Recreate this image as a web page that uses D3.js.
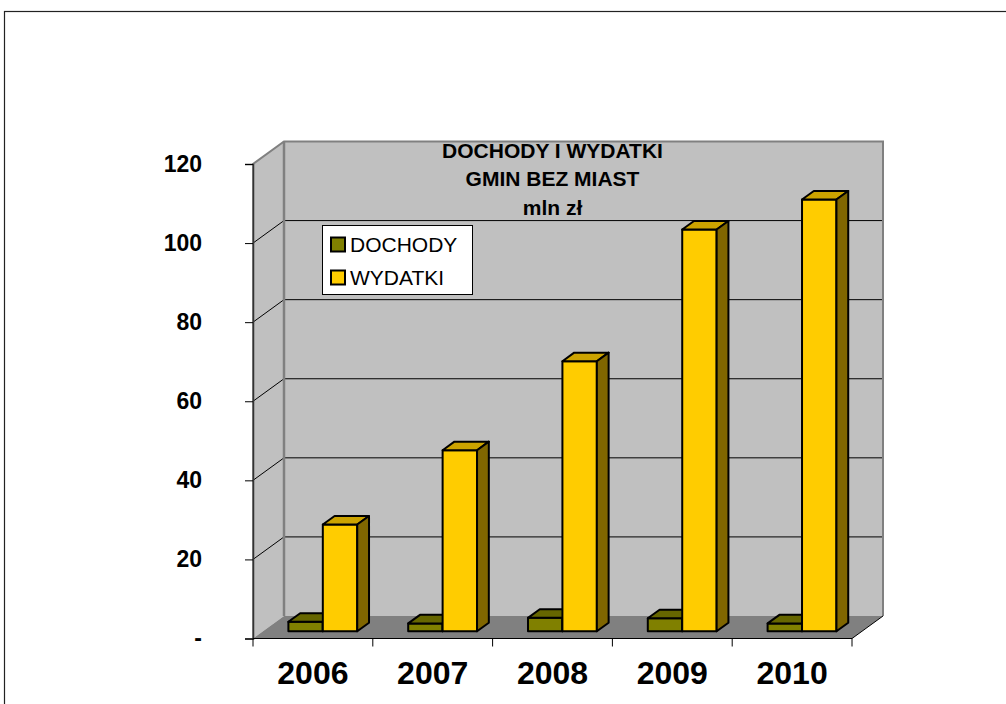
<!DOCTYPE html>
<html>
<head>
<meta charset="utf-8">
<script src="https://cdn.jsdelivr.net/npm/d3@7"></script>
<style>
  html, body { margin: 0; padding: 0; background: #fff; }
  svg { display: block; font-family: "Liberation Sans", Arial, sans-serif; }
</style>
</head>
<body>
<svg id="chart" width="1006" height="704"></svg>
<script>
// Revenue and spending of rural communes, million zł
const years = ['2006', '2007', '2008', '2009', '2010'];
const seriesNames = ['DOCHODY', 'WYDATKI'];
const dochody = [2.4, 2.0, 3.4, 3.3, 2.0];
const wydatki = [27.0, 45.8, 68.3, 101.6, 109.2];
const yTicks = [0, 20, 40, 60, 80, 100, 120];
const yTickLabels = ['-', '20', '40', '60', '80', '100', '120'];
const titleLines = ['DOCHODY I WYDATKI', 'GMIN BEZ MIAST', 'mln zł'];

const seriesValues = [dochody, wydatki];
const faceColors = [
  { front: '#808000', top: '#666600', side: '#404000' },
  { front: '#FFCC00', top: '#CCA300', side: '#806600' }
];

const svg = d3.select('#chart');

// outer frame
svg.append('rect')
  .attr('x', 4.5).attr('y', 11.5).attr('width', 1010).attr('height', 700)
  .attr('fill', 'none').attr('stroke', '#222').attr('stroke-width', 1.2);

// front-plane scales and depth projection
const x = d3.scaleBand().domain(years).range([253, 852]);
const xs = d3.scaleBand().domain(seriesNames).range([0, x.bandwidth()])
  .paddingInner(0).paddingOuter(0.74);
const y = d3.scaleLinear().domain([0, 120]).range([638.5, 164]);
const DX = 31, DY = 22.5;      // full depth offset
const F0 = 0.32, F1 = 0.70;    // bar depth range (fraction of full depth)
const P = (px, py, f) => [px + f * DX, py - f * DY];
const poly = pts => pts.map(p => p.join(',')).join(' ');

const x0 = x.range()[0], x1 = x.range()[1];
const yb = y(0), yt = y(120);

// walls and floor
const g = svg.append('g');
g.append('polygon') // left wall
  .attr('points', poly([P(x0, yt, 0), P(x0, yt, 1), P(x0, yb, 1), P(x0, yb, 0)]))
  .attr('fill', '#C0C0C0');
g.append('polygon') // back wall
  .attr('points', poly([P(x0, yt, 1), P(x1, yt, 1), P(x1, yb, 1), P(x0, yb, 1)]))
  .attr('fill', '#C0C0C0');
g.append('polygon') // floor
  .attr('points', poly([P(x0, yb, 0), P(x1, yb, 0), P(x1, yb, 1), P(x0, yb, 1)]))
  .attr('fill', '#808080');

// gridlines across left and back walls
yTicks.filter(v => v > 0 && v < 120).forEach(v => {
  g.append('polyline')
    .attr('points', poly([P(x0, y(v), 0), P(x0, y(v), 1), P(x1, y(v), 1)]))
    .attr('fill', 'none').attr('stroke', '#000').attr('stroke-width', 1);
});

// wall edges
g.append('polyline')
  .attr('points', poly([P(x0, yb, 0), P(x0, yt, 0), P(x0, yt, 1), P(x1, yt, 1), P(x1, yb, 1)]))
  .attr('fill', 'none').attr('stroke', '#808080').attr('stroke-width', 2);
g.append('line')
  .attr('x1', P(x0, yt, 1)[0]).attr('y1', P(x0, yt, 1)[1])
  .attr('x2', P(x0, yb, 1)[0]).attr('y2', P(x0, yb, 1)[1])
  .attr('stroke', '#808080').attr('stroke-width', 2.5);

// bars
const bars = svg.append('g').attr('stroke', '#000').attr('stroke-width', 2)
  .attr('stroke-linejoin', 'round');
years.forEach((yr, i) => {
  seriesNames.forEach((s, k) => {
    const v = seriesValues[k][i];
    const xl = x(yr) + xs(s), xr = xl + xs.bandwidth();
    const top = y(v), bot = y(0);
    const c = faceColors[k];
    const fl = P(xl, top, F0), fr = P(xr, top, F0);
    const frb = P(xr, bot, F0), flb = P(xl, bot, F0);
    const bl = P(xl, top, F1), br = P(xr, top, F1), brb = P(xr, bot, F1);
    bars.append('polygon').attr('points', poly([fl, fr, frb, flb])).attr('fill', c.front);
    bars.append('polygon').attr('points', poly([fl, fr, br, bl])).attr('fill', c.top);
    bars.append('polygon').attr('points', poly([fr, br, brb, frb])).attr('fill', c.side);
  });
});

// y axis
const yAxis = svg.append('g')
  .attr('transform', `translate(${x0},0)`)
  .call(d3.axisLeft(y).tickValues(yTicks)
    .tickFormat((d, i) => yTickLabels[i]).tickSize(8).tickPadding(43));
yAxis.select('.domain').attr('stroke', '#333').attr('stroke-width', 1.5);
yAxis.selectAll('.tick line').attr('stroke', '#000');
yAxis.selectAll('text')
  .attr('font-family', '"Liberation Sans", Arial, sans-serif')
  .attr('font-size', 23).attr('font-weight', 'bold').attr('fill', '#000');

// x axis: labels centred in categories, ticks on boundaries
const xAxis = svg.append('g')
  .attr('transform', `translate(0,${yb})`)
  .call(d3.axisBottom(x).tickSize(0).tickPadding(23));
xAxis.select('.domain').remove();
xAxis.selectAll('text')
  .attr('font-family', '"Liberation Sans", Arial, sans-serif')
  .attr('font-size', 32).attr('font-weight', 'bold').attr('fill', '#000');
svg.append('line')
  .attr('x1', x0).attr('x2', x1).attr('y1', yb).attr('y2', yb)
  .attr('stroke', '#000').attr('stroke-width', 1.2);
svg.append('line')
  .attr('x1', x1).attr('y1', yb)
  .attr('x2', P(x1, yb, 1)[0]).attr('y2', P(x1, yb, 1)[1])
  .attr('stroke', '#000').attr('stroke-width', 1);
const bounds = years.map(d => x(d)).concat([x1]);
svg.append('g').selectAll('line').data(bounds).join('line')
  .attr('x1', d => d).attr('x2', d => d)
  .attr('y1', yb).attr('y2', yb + 8)
  .attr('stroke', '#000').attr('stroke-width', 1);

// title
svg.append('text')
  .attr('text-anchor', 'middle')
  .attr('font-size', 21).attr('font-weight', 'bold').attr('fill', '#000')
  .selectAll('tspan').data(titleLines).join('tspan')
  .attr('x', (x0 + x1) / 2)
  .attr('y', (d, i) => 157.5 + i * 28.5)
  .text(d => d);

// legend
const leg = svg.append('g').attr('transform', 'translate(322.5,225.5)');
leg.append('rect').attr('width', 150).attr('height', 69)
  .attr('fill', '#fff').attr('stroke', '#000').attr('stroke-width', 1);
seriesNames.forEach((s, k) => {
  leg.append('rect')
    .attr('x', 8.5).attr('y', 12 + k * 33).attr('width', 14).attr('height', 14)
    .attr('fill', faceColors[k].front).attr('stroke', '#000').attr('stroke-width', 2);
  leg.append('text')
    .attr('x', 27.5).attr('y', 26 + k * 33)
    .attr('font-size', 21).attr('fill', '#000')
    .text(s);
});
</script>
</body>
</html>
